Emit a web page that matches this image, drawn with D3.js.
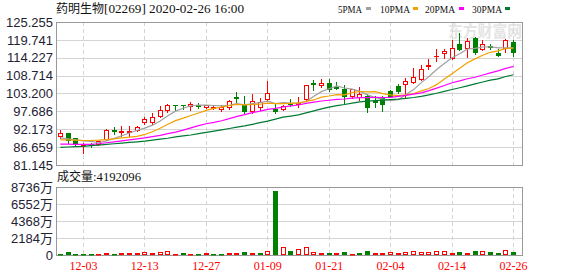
<!DOCTYPE html>
<html>
<head>
<meta charset="utf-8">
<script src="https://d3js.org/d3.v7.min.js"></script>
<style>
body { margin: 0; background: #fff; }
</style>
</head>
<body>
<div id="chart"></div>
<script>
// data
var dates = ['11-28','11-29','12-02','12-03','12-04','12-05','12-06','12-09','12-10','12-11',
  '12-12','12-13','12-16','12-17','12-18','12-19','12-20','12-23','12-24','12-27',
  '12-30','12-31','01-02','01-03','01-06','01-07','01-08','01-09','01-10','01-13',
  '01-14','01-15','01-16','01-17','01-20','01-21','01-22','01-23','01-24','01-29',
  '01-30','01-31','02-03','02-04','02-05','02-06','02-07','02-10','02-11','02-12',
  '02-13','02-14','02-17','02-18','02-19','02-20','02-21','02-24','02-25','02-26']

var opens = [90.2, 90.92, 89.38, 87.22, 87.5, 87.72, 89.07, 91.8, 91.3, 91.2,
  91.94, 94.32, 94.32, 96.26, 98.11, 99.8, 99.8, 99.35, 99.6, 98.94,
  98.8, 98.51, 99.13, 102.0, 99.96, 97.71, 98.94, 101.41, 98.42, 98.33,
  100.3, 99.96, 101.41, 106.4, 105.73, 106.44, 105.1, 104.49, 102.43, 102.21,
  102.43, 100.9, 101.9, 103.97, 105.51, 106.04, 106.66, 107.67, 111.6, 114.7,
  115.6, 114.06, 118.38, 117.33, 120.23, 116.93, 117.7, 115.78, 117.33, 119.18]
var highs = [91.9, 91.0, 89.5, 87.84, 88.02, 88.6, 92.25, 92.96, 93.27, 93.2,
  93.2, 96.04, 97.09, 99.35, 99.96, 99.8, 99.8, 100.67, 100.18, 99.7,
  99.75, 99.7, 101.2, 103.57, 102.43, 103.05, 101.72, 107.06, 100.18, 99.6,
  101.41, 102.02, 105.8, 107.36, 107.58, 107.67, 106.84, 105.82, 104.6, 105.12,
  103.05, 102.43, 102.43, 104.3, 106.04, 107.89, 111.16, 111.99, 113.75, 116.84,
  116.93, 119.7, 121.77, 120.41, 120.72, 119.7, 118.38, 116.84, 120.01, 119.7]
var lows = [89.6, 88.0, 87.3, 84.94, 86.6, 87.3, 89.0, 90.7, 90.09, 90.1,
  91.6, 93.79, 93.79, 95.86, 97.58, 98.11, 98.33, 98.11, 98.63, 98.8,
  98.42, 97.9, 98.42, 100.49, 97.09, 97.09, 98.11, 101.2, 97.28, 98.0,
  99.35, 99.13, 101.3, 104.28, 105.3, 104.06, 104.5, 99.96, 101.9, 101.2,
  97.49, 98.94, 97.8, 102.12, 103.26, 102.21, 106.35, 107.36, 110.75, 113.32,
  114.06, 113.75, 116.62, 114.55, 115.29, 116.52, 116.93, 114.86, 115.91, 114.86]
var closes = [91.0, 89.0, 87.84, 87.4, 87.3, 88.46, 91.94, 91.6, 91.6, 91.5,
  92.78, 95.24, 96.04, 98.11, 99.65, 99.7, 99.7, 99.96, 99.3, 99.56,
  99.0, 99.13, 100.89, 101.8, 97.71, 100.98, 100.49, 103.26, 97.9, 99.35,
  100.1, 100.37, 105.73, 106.2, 106.44, 104.49, 104.9, 102.43, 104.49, 102.95,
  99.13, 100.7, 99.96, 102.52, 104.06, 107.06, 108.38, 110.75, 111.9, 114.9,
  116.31, 117.14, 116.93, 119.39, 115.91, 118.38, 117.5, 115.08, 119.7, 115.91]

var ma5 = [89.5, 89.2, 88.9, 88.6, 88.46, 88.01, 88.59, 89.34, 90.18, 91.02,
  91.88, 92.54, 93.43, 94.73, 96.36, 97.75, 98.64, 99.42, 99.66, 99.64,
  99.5, 99.39, 99.58, 100.08, 99.71, 100.1, 100.37, 100.85, 100.07, 100.4,
  100.22, 100.2, 100.69, 102.35, 103.77, 104.65, 105.55, 104.89, 104.55, 103.85,
  102.78, 101.94, 101.45, 101.05, 101.27, 102.86, 104.4, 106.55, 108.43, 110.6,
  112.45, 114.2, 115.44, 116.93, 117.14, 117.55, 117.62, 117.25, 117.31, 117.31]
var ma10 = [88.9, 88.9, 88.8, 88.7, 88.7, 88.8, 89.0, 89.2, 89.5, 89.74,
  89.95, 90.57, 91.39, 92.46, 93.69, 94.82, 95.59, 96.43, 97.2, 98.0,
  98.63, 99.02, 99.5, 99.87, 99.68, 99.8, 99.88, 100.21, 100.07, 100.05,
  100.16, 100.28, 100.77, 101.21, 102.08, 102.43, 102.87, 102.79, 103.45, 103.81,
  103.71, 103.75, 103.17, 102.8, 102.56, 102.82, 103.17, 104.0, 104.74, 105.94,
  107.65, 109.3, 111.0, 112.68, 113.87, 115.0, 115.91, 116.34, 117.12, 117.22]
var ma20 = [87.6, 87.6, 87.5, 87.5, 87.5, 87.7, 88.0, 88.3, 88.6, 88.9,
  89.2, 89.5, 89.9, 90.3, 90.8, 91.3, 91.9, 92.6, 93.3, 93.87,
  94.29, 94.79, 95.44, 96.16, 96.68, 97.31, 97.74, 98.32, 98.64, 99.03,
  99.39, 99.65, 100.13, 100.54, 100.88, 101.12, 101.38, 101.5, 101.76, 101.93,
  101.94, 102.02, 101.97, 102.01, 102.32, 102.63, 103.02, 103.4, 104.1, 104.87,
  105.68, 106.52, 107.08, 107.74, 108.22, 108.91, 109.54, 110.17, 110.93, 111.58]
var ma30 = [86.6, 86.7, 86.8, 86.9, 87.1, 87.3, 87.5, 87.7, 87.9, 88.1,
  88.3, 88.5, 88.8, 89.1, 89.4, 89.8, 90.1, 90.4, 90.8, 91.2,
  91.6, 92.0, 92.4, 92.8, 93.2, 93.7, 94.2, 94.7, 95.3, 95.93,
  96.25, 96.62, 97.22, 97.85, 98.48, 99.02, 99.45, 99.81, 100.24, 100.62,
  100.83, 101.02, 101.15, 101.29, 101.44, 101.69, 101.97, 102.33, 102.75, 103.27,
  103.84, 104.44, 104.98, 105.56, 106.17, 106.75, 107.32, 107.71, 108.44, 108.99]

// volume in 万 shares, and bar colour (1 red / 0 green)
var volumes = [170, 390, 170, 170, 170, 130, 300, 170, 300, 300,
  300, 385, 300, 385, 515, 170, 300, 170, 170, 300,
  170, 170, 300, 300, 425, 300, 300, 515, 8260, 1030,
  550, 770, 1030, 385, 257, 257, 257, 385, 130, 257,
  515, 257, 257, 345, 257, 385, 475, 345, 345, 475,
  475, 257, 385, 257, 515, 475, 385, 257, 600, 419]
var volUp = [0, 0, 0, 0, 0, 1, 1, 0, 1, 1,
  1, 1, 1, 1, 1, 1, 0, 1, 0, 1,
  0, 0, 1, 1, 0, 1, 0, 1, 0, 1,
  0, 1, 1, 1, 1, 0, 1, 0, 1, 0,
  0, 1, 1, 1, 1, 1, 1, 1, 1, 1,
  1, 1, 0, 1, 0, 1, 0, 0, 1, 0]

var priceTicks = [81.145, 86.659, 92.173, 97.686, 103.200, 108.714, 114.227, 119.741, 125.255]
var volTicks = [0, 2184, 4368, 6552, 8736]
var xTicks = ['12-03', '12-13', '12-27', '01-09', '01-21', '02-04', '02-14', '02-26']

var maNames = ['5PMA', '10PMA', '20PMA', '30PMA']
var maSeries = [ma5, ma10, ma20, ma30]

;(function(){
var width = 578, height = 276
var left = 56, right = 522
var pTop = 22, pBottom = 165
var vTop = 187, vBottom = 255

var RED = '#ff0000', GREEN = '#008000'
var maColors = ['#a0a0a0', '#f2a100', '#ff00ff', '#007a33']
var labelFont = '"Liberation Sans", Arial, sans-serif'
var serif = '"Liberation Serif", "Times New Roman", serif'
var cjk = '"Noto Sans CJK SC", sans-serif'

function px(v) { return Math.round(v) + 0.5 }

let svg = d3.select('#chart')
  .append('svg')
  .attr('width', width)
  .attr('height', height)
  .style('font-family', labelFont)

svg.append('rect').attr('width', width).attr('height', height).attr('fill', '#fff')

// scales
var x = d3.scaleBand()
  .domain(dates)
  .range([56.5, 56.5 + dates.length * 7.68])

var bw = x.bandwidth()
function cx(d) { return px(x(d) + bw / 2 - 0.5) }

var yP = d3.scaleLinear()
  .domain([priceTicks[0], priceTicks[priceTicks.length - 1]])
  .range([pBottom, pTop])

var yV = d3.scaleLinear()
  .domain([0, volTicks[volTicks.length - 1]])
  .range([vBottom, vTop])

// watermark
svg.append('text')
  .attr('x', 448).attr('y', 37)
  .attr('font-family', cjk)
  .attr('font-size', 16)
  .attr('font-weight', 'bold')
  .attr('textLength', 74)
  .attr('lengthAdjust', 'spacingAndGlyphs')
  .attr('fill', '#e4e4e4')
  .text('东方财富网')
svg.append('text')
  .attr('x', 450).attr('y', 47)
  .attr('font-size', 6)
  .attr('textLength', 70)
  .attr('fill', '#ececec')
  .text('eastmoney.com')

// grids
var grid = svg.append('g')
  .attr('stroke', '#d4d4d4')
  .attr('stroke-width', 1)

grid.selectAll('.hp')
  .data(priceTicks.slice(1, -1))
  .enter()
  .append('line')
  .attr('x1', left).attr('x2', right)
  .attr('y1', d => px(yP(d))).attr('y2', d => px(yP(d)))

grid.selectAll('.hv')
  .data(volTicks.slice(1, -1))
  .enter()
  .append('line')
  .attr('x1', left).attr('x2', right)
  .attr('y1', d => px(yV(d))).attr('y2', d => px(yV(d)))

;[[pTop, pBottom], [vTop, vBottom]].forEach(function(r) {
  grid.append('g')
    .selectAll('line')
    .data(xTicks)
    .enter()
    .append('line')
    .attr('x1', cx).attr('x2', cx)
    .attr('y1', r[0]).attr('y2', r[1])
    .attr('stroke-dasharray', '4,3')
})

// frames
;[[pTop, pBottom], [vTop, vBottom]].forEach(function(r) {
  svg.append('rect')
    .attr('x', left + 0.5).attr('y', r[0] + 0.5)
    .attr('width', right - left).attr('height', r[1] - r[0])
    .attr('fill', 'none')
    .attr('stroke', '#999')
})

// candles
var candles = svg.append('g')
  .selectAll('g')
  .data(dates)
  .enter()
  .append('g')

candles.each(function(d, i) {
  var g = d3.select(this)
  var up = closes[i] >= opens[i]
  var col = up ? RED : GREEN
  var c = cx(d)
  var top = px(yP(Math.max(opens[i], closes[i])))
  var bot = px(yP(Math.min(opens[i], closes[i])))
  g.append('line')
    .attr('x1', c).attr('x2', c)
    .attr('y1', px(yP(highs[i])) - 0.5).attr('y2', px(yP(lows[i])) + 0.5)
    .attr('stroke', col)
  if (bot - top < 1) {
    g.append('line')
      .attr('x1', c - 2.5).attr('x2', c + 2.5)
      .attr('y1', top).attr('y2', top)
      .attr('stroke', col)
  } else {
    g.append('rect')
      .attr('x', c - 2).attr('y', top)
      .attr('width', 4).attr('height', bot - top)
      .attr('fill', up ? '#fff' : col)
      .attr('stroke', col)
  }
})

// moving averages
var line = d3.line()
  .x((v, i) => x(dates[i]) + bw / 2)
  .y(v => yP(v))

maSeries.forEach(function(s, k) {
  svg.append('path')
    .datum(s)
    .attr('d', line)
    .attr('fill', 'none')
    .attr('stroke', maColors[k])
    .attr('stroke-width', 1.2)
})

// volume bars
svg.append('g')
  .selectAll('rect')
  .data(volumes)
  .enter()
  .append('rect')
  .attr('x', (v, i) => cx(dates[i]) - 2)
  .attr('y', v => Math.min(px(yV(v)), vBottom - 0.5))
  .attr('width', 4)
  .attr('height', v => Math.max(vBottom - 0.5 - px(yV(v)), 0.5))
  .attr('fill', (v, i) => volUp[i] ? '#fff' : GREEN)
  .attr('stroke', (v, i) => volUp[i] ? RED : GREEN)

// axes
svg.append('g')
  .attr('transform', 'translate(' + left + ',0)')
  .call(d3.axisLeft(yP).tickValues(priceTicks).tickFormat(d3.format('.3f')).tickSize(0).tickPadding(3))
  .call(g => g.select('.domain').remove())
  .selectAll('text')
  .attr('font-family', labelFont)
  .attr('font-size', 13)
  .attr('fill', '#1e2233')

svg.append('g')
  .attr('transform', 'translate(' + left + ',0)')
  .call(d3.axisLeft(yV).tickValues(volTicks).tickFormat(d => d === 0 ? '0' : d + '万').tickSize(0).tickPadding(3))
  .call(g => g.select('.domain').remove())
  .selectAll('text')
  .attr('font-family', labelFont + ', ' + cjk)
  .attr('font-size', 13)
  .attr('fill', '#1e2233')

svg.append('g')
  .attr('transform', 'translate(0,' + vBottom + ')')
  .call(d3.axisBottom(x).tickValues(xTicks).tickSize(0).tickPadding(6))
  .call(g => g.select('.domain').remove())
  .selectAll('text')
  .attr('font-family', serif)
  .attr('font-size', 12)
  .attr('fill', RED)

// title
var title = svg.append('text')
  .attr('x', left).attr('y', 13)
  .attr('fill', '#111')
title.append('tspan')
  .attr('font-family', cjk)
  .attr('font-size', 12)
  .text('药明生物')
title.append('tspan')
  .attr('font-family', serif)
  .attr('font-size', 12)
  .attr('textLength', 140)
  .attr('lengthAdjust', 'spacingAndGlyphs')
  .text('[02269] 2020-02-26 16:00')

// legend
var legX = [338, 380, 425, 472]
var boxX = [366, 413, 459, 505]
maNames.forEach(function(n, k) {
  svg.append('text')
    .attr('x', legX[k]).attr('y', 12.5)
    .attr('font-family', serif)
    .attr('font-size', 11)
    .attr('textLength', n.length * 6)
    .attr('lengthAdjust', 'spacingAndGlyphs')
    .attr('fill', '#111')
    .text(n)
  svg.append('rect')
    .attr('x', boxX[k]).attr('y', 7)
    .attr('width', 5).attr('height', 3)
    .attr('fill', maColors[k])
})

// volume caption
var cap = svg.append('text')
  .attr('x', left + 1).attr('y', 181)
  .attr('fill', '#111')
cap.append('tspan')
  .attr('font-family', cjk)
  .attr('font-size', 12)
  .text('成交量')
cap.append('tspan')
  .attr('font-family', serif)
  .attr('font-size', 12)
  .attr('textLength', 48)
  .attr('lengthAdjust', 'spacingAndGlyphs')
  .text(':4192096')
})()
</script>
</body>
</html>
